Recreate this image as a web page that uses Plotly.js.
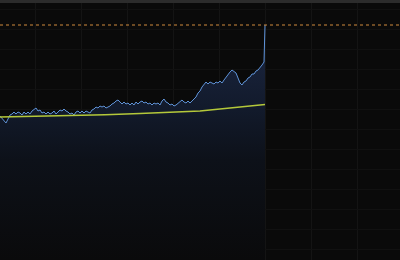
<!DOCTYPE html>
<html>
<head>
<meta charset="utf-8">
<script src="https://cdn.plot.ly/plotly-3.0.1.min.js"></script>
<style>html,body{margin:0;padding:0;background:#0a0a0a;}#chart{width:400px;height:260px;}</style>
</head>
<body>
<div id="chart"></div>
<script>
// Blue series (index positions and values)
const seriesX = [0,2,4,6,8,10,12,14,16,18,20,22,24,26,28,30,32,34,36,38,40,42,44,46,48,50,52,54,56,58,60,62,64,66,68,70,72,74,76,78,80,82,84,86,88,90,92,94,96,98,100,102,104,106,108,110,112,114,116,118,120,122,124,126,128,130,132,134,136,138,140,142,144,146,148,150,152,154,156,158,160,162,164,166,168,170,172,174,176,178,180,182,184,186,188,190,192,194,196,198,200,202,204,206,208,210,212,214,216,218,220,222,224,226,228,230,232,234,236,238,240,242,244,246,248,250,252,254,256,258,260,262,264,265];
const seriesY = [144,142,139,137,141,145,146,148,146,148,147,145,148,146,148,146,149,151,152,149,150,147,148,146,148,146,147,149,146,148,150,149,151,149,148,146,147,145,148,149,147,149,147,149,148,147,150,151,153,152,154,153,154,152,153,154,156,157,159,160,158,156,158,156,157,155,157,155,158,156,158,159,157,158,156,157,155,157,156,157,155,159,161,158,157,155,156,154,155,157,158,160,158,157,159,157,159,161,163,167,169,173,175,178,176,178,177,176,178,177,179,177,180,183,186,188,190,188,187,182,177,175,178,179,182,183,186,186,189,190,192,195,198,235];
// Yellow trend series
const trendX = [0,35,70,105,140,175,200,230,250,265];
const trendY = [143,143.5,144.2,145.2,146.5,147.7,149,152,154,155.5];
// Reference level (orange dotted)
const refLevel = 235;
const xRange = [0,400];
const yRange = [0,260];

const traces = [
  {
    x: seriesX, y: seriesY, type: 'scatter', mode: 'lines',
    line: {color: '#5f93d8', width: 1},
    fill: 'tozeroy',
    fillgradient: {type: 'vertical', start: 0, stop: 200,
      colorscale: [[0,'#0a0a0b'],[0.5,'#0d1119'],[0.75,'#121a2b'],[1,'#18223a']]},
    hoverinfo: 'skip'
  },
  {
    x: trendX, y: trendY, type: 'scatter', mode: 'lines',
    line: {color: '#b4c83a', width: 1.5}, hoverinfo: 'skip'
  },
  {
    x: xRange, y: [refLevel, refLevel], type: 'scatter', mode: 'lines',
    line: {color: '#d08a3c', width: 1.2, dash: 'dot'}, hoverinfo: 'skip'
  }
];

const layout = {
  width: 400, height: 260,
  margin: {l:0, r:0, t:0, b:0, pad:0},
  paper_bgcolor: '#0a0a0a', plot_bgcolor: '#0a0a0a',
  showlegend: false,
  xaxis: {range: xRange, showgrid: true, gridcolor: '#141414', gridwidth: 1,
    tick0: 35, dtick: 46, showticklabels: false, zeroline: false, showline: false, ticks: ''},
  yaxis: {range: yRange, showgrid: true, gridcolor: '#111111', gridwidth: 1,
    tick0: 11, dtick: 20, showticklabels: false, zeroline: false, showline: false, ticks: ''},
  shapes: [
    {type: 'rect', xref: 'paper', yref: 'paper', x0: 0, x1: 1, y0: 0.988, y1: 1,
     fillcolor: '#2c2c2c', line: {width: 0}, layer: 'above'}
  ]
};

Plotly.newPlot('chart', traces, layout, {displayModeBar: false, staticPlot: true});
</script>
</body>
</html>
